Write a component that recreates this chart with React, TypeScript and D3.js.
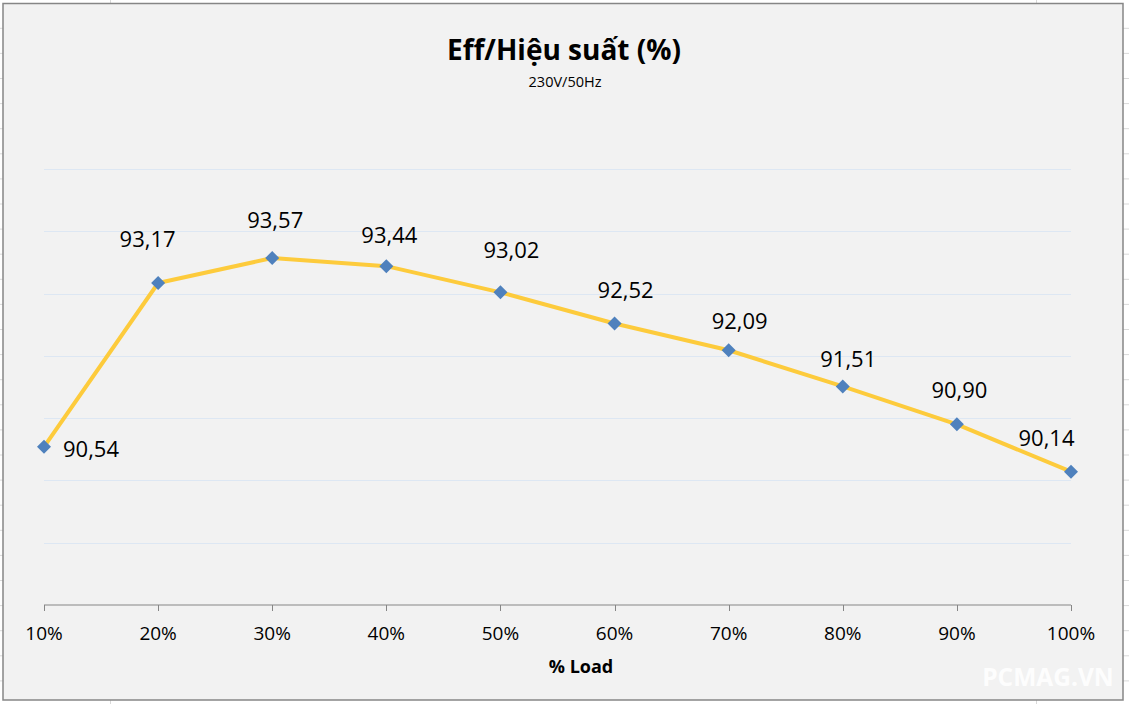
import React from "react";
import * as d3 from "d3";

const categories = ["10%", "20%", "30%", "40%", "50%", "60%", "70%", "80%", "90%", "100%"];
const efficiency = [90.54, 93.17, 93.57, 93.44, 93.02, 92.52, 92.09, 91.51, 90.9, 90.14];
const yTicks = [88, 89, 90, 91, 92, 93, 94, 95];
const labelText = ["90,54", "93,17", "93,57", "93,44", "93,02", "92,52", "92,09", "91,51", "90,90", "90,14"];
// manual label placement offsets (dx, dy) from the marker, as in the original chart
const labelDx = [47, -10.5, 3, 3, 11, 11, 11, 5.5, 2.5, -24.5];
const labelDy = [1, -45, -39, -32, -43, -34, -30, -28, -35, -35];

const W = 1129;
const H = 704;
const FONT = "'Open Sans', 'Noto Sans', sans-serif";

export default function App() {
  const x = d3.scalePoint<string>().domain(categories).range([44, 1071]);
  const y = d3.scaleLinear().domain([88, 95]).range([605, 169]);
  const line = d3
    .line<number>()
    .x((_, i) => x(categories[i]) as number)
    .y((d) => y(d));
  const diamond = d3.symbol().type(d3.symbolDiamond2).size(125)();
  const cellRows = d3.range(28.3, 700, 25.1);

  return (
    <svg
      width={W}
      height={H}
      style={{ position: "absolute", left: 0, top: 0, background: "#fff" }}
    >
      {/* spreadsheet cell gridlines peeking outside chart */}
      {cellRows.map((r, i) => (
        <g key={i} stroke="#d9d9d9" strokeWidth={1}>
          <line x1={0} x2={3} y1={r} y2={r} />
          <line x1={1123} x2={1129} y1={r} y2={r} />
        </g>
      ))}
      <line x1={110.5} x2={110.5} y1={0} y2={3} stroke="#d9d9d9" />
      <line x1={110.5} x2={110.5} y1={700} y2={704} stroke="#d9d9d9" />
      <line x1={1036.5} x2={1036.5} y1={0} y2={3} stroke="#d9d9d9" />
      <line x1={1036.5} x2={1036.5} y1={700} y2={704} stroke="#d9d9d9" />

      {/* chart area */}
      <rect x={3} y={3.5} width={1120} height={696.5} fill="#f2f2f2" stroke="#868686" strokeWidth={1.5} />

      {/* gridlines */}
      {yTicks.slice(1).map((t) => (
        <line
          key={t}
          x1={44}
          x2={1071}
          y1={Math.round(y(t)) + 0.5}
          y2={Math.round(y(t)) + 0.5}
          stroke="#dde7f3"
          strokeWidth={1}
        />
      ))}

      {/* x axis */}
      <line x1={44} x2={1071} y1={605} y2={605} stroke="#868686" strokeWidth={1.2} />
      {categories.map((c) => (
        <g key={c}>
          <line
            x1={Math.round(x(c) as number) + 0.5}
            x2={Math.round(x(c) as number) + 0.5}
            y1={605}
            y2={611}
            stroke="#868686"
          />
          <text
            x={x(c)}
            y={633}
            textAnchor="middle"
            dominantBaseline="central"
            fontFamily={FONT}
            fontSize={19}
            fill="#000"
          >
            {c}
          </text>
        </g>
      ))}

      {/* titles */}
      <text x={564} y={60} textAnchor="middle" fontFamily={FONT} fontWeight="bold" fontSize={28} fill="#000">
        Eff/Hiệu suất (%)
      </text>
      <text x={565} y={87} textAnchor="middle" fontFamily={FONT} fontSize={14.5} fill="#000">
        230V/50Hz
      </text>
      <text x={581} y={673} textAnchor="middle" fontFamily={FONT} fontWeight="bold" fontSize={18} fill="#000">
        % Load
      </text>

      {/* series */}
      <path d={line(efficiency) || ""} fill="none" stroke="#fdcb3c" strokeWidth={4} strokeLinejoin="round" />
      {efficiency.map((v, i) => (
        <path
          key={i}
          d={diamond || ""}
          transform={`translate(${x(categories[i])},${y(v)})`}
          fill="#4f81bd"
        />
      ))}

      {/* data labels */}
      {efficiency.map((v, i) => (
        <text
          key={i}
          x={(x(categories[i]) as number) + labelDx[i]}
          y={y(v) + labelDy[i]}
          textAnchor="middle"
          dominantBaseline="central"
          fontFamily={FONT}
          fontSize={22}
          fill="#000"
        >
          {labelText[i]}
        </text>
      ))}

      {/* watermark */}
      <text
        x={1048}
        y={686}
        textAnchor="middle"
        fontFamily={FONT}
        fontWeight="bold"
        fontSize={24.5}
        fill="#ffffff"
        fillOpacity={0.9}
      >
        PCMAG.VN
      </text>
    </svg>
  );
}
